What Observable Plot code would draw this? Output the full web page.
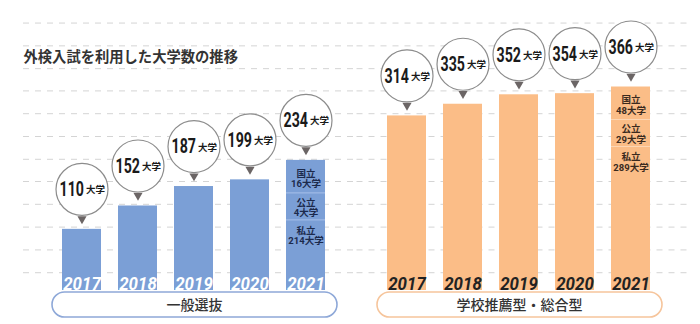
<!DOCTYPE html>
<html>
<head>
<meta charset="utf-8">
<script src="https://cdn.jsdelivr.net/npm/d3@7"></script>
<script src="https://cdn.jsdelivr.net/npm/@observablehq/plot@0.6"></script>
<style>
  body { margin: 0; background: #fff; }
  #chart svg { display: block; }
</style>
</head>
<body>
<div id="chart"></div>
<script>
// ---- data ----
const title = "外検入試を利用した大学数の推移";
const panels = ["一般選抜", "学校推薦型・総合型"];
const years = ["2017", "2018", "2019", "2020", "2021"];
const generalCounts = [110, 152, 187, 199, 234];
const recommendCounts = [314, 335, 352, 354, 366];
const breakdownTypes = ["国立", "公立", "私立"];
const general2021 = [16, 4, 214];
const recommend2021 = [48, 29, 289];
const unit = "大学";
const guideLines = [32, 73, 114, 155, 196, 236, 277, 318, 359, 399, 440, 481];

// ---- tables ----
const rows = [];
years.forEach((yr, i) => {
  rows.push({panel: panels[0], year: yr, value: generalCounts[i]});
  rows.push({panel: panels[1], year: yr, value: recommendCounts[i]});
});
const last = [
  {panel: panels[0], year: years[4], value: generalCounts[4], parts: general2021},
  {panel: panels[1], year: years[4], value: recommendCounts[4], parts: recommend2021}
];

const barColor = {[panels[0]]: "#7b9fd6", [panels[1]]: "#fbbd87"};
const sepColor = {[panels[0]]: "#a9c1ea", [panels[1]]: "#fdd6b3"};
const pillColor = {[panels[0]]: "#8ea8d8", [panels[1]]: "#f6c59c"};
const yearColor = {[panels[0]]: "#ffffff", [panels[1]]: "#222222"};
const stackText = {[panels[0]]: "#1c2a4c", [panels[1]]: "#3a2a1e"};

const numFont = `Roboto,"Noto Sans CJK JP",sans-serif`;
const jpFont = `"Noto Sans CJK JP",sans-serif`;

const stackDy = [18, 47, 75];
const sepDy = [32.5, 59.5];

const marks = [
  // decorative dashed ruled lines
  Plot.ruleY(guideLines, {y: d => d, fx: () => panels[0], insetLeft: -20, insetRight: -11.5,
    stroke: "#d4d4d4", strokeDasharray: "6,6"}),
  Plot.ruleY(guideLines, {y: d => d, fx: () => panels[1], insetLeft: -11.5, insetRight: -20,
    stroke: "#d4d4d4", strokeDasharray: "6,6"}),
  // bars
  Plot.barY(rows, {x: "year", y: "value", fx: "panel", fill: d => barColor[d.panel]}),
  // 2021 breakdown separators and labels
  ...sepDy.map(dy => Plot.tickY(last, {x: "year", y: "value", fx: "panel", dy,
    stroke: d => sepColor[d.panel], strokeWidth: 1})),
  ...breakdownTypes.map((t, k) => Plot.text(last, {x: "year", y: "value", fx: "panel",
    text: d => t + "\n" + d.parts[k] + unit, dy: stackDy[k], lineAnchor: "middle",
    fontSize: 9.5, lineHeight: 1.1, fontWeight: "bold", fontFamily: numFont,
    fill: d => stackText[d.panel]})),
  // category pills
  Plot.rect(panels, {fx: d => d, y1: 0, y2: 0, insetTop: 2, insetBottom: -27,
    insetLeft: 9, insetRight: 8, rx: 12.5, fill: "white",
    stroke: d => pillColor[d], strokeWidth: 1.6}),
  Plot.text(panels, {fx: d => d, text: d => d, frameAnchor: "bottom", dy: 15.5,
    lineAnchor: "middle", fontSize: 14, fontFamily: jpFont, fontWeight: 500, fill: "#333"}),
  // year labels
  Plot.text(rows, {x: "year", y: 0, fx: "panel", text: "year", lineAnchor: "middle", dy: -6.5,
    fontSize: 16.9, fontStyle: "italic", fontWeight: "bold", fontFamily: numFont,
    fill: d => yearColor[d.panel]}),
  // bubbles
  Plot.dot(rows, {x: "year", y: "value", fx: "panel", r: 26, dy: -40,
    fill: "white", stroke: "#8c8c8c", strokeWidth: 1.2}),
  Plot.dot(rows, {x: "year", y: "value", fx: "panel", symbol: "triangle", r: 3.4, rotate: 180,
    dy: -10.5, fill: "#6b6565", stroke: "none"}),
  Plot.text(rows, {x: "year", y: "value", fx: "panel", text: d => String(d.value), dy: -39.5, dx: 2,
    textAnchor: "end", lineAnchor: "middle", fontSize: 14.2, fontWeight: "bold",
    fontFamily: numFont, fill: "#1a1a1a"}),
  Plot.text(rows, {x: "year", y: "value", fx: "panel", text: () => unit, dy: -39, dx: 4,
    textAnchor: "start", lineAnchor: "middle", fontSize: 9.5, fontWeight: "bold",
    fontFamily: jpFont, fill: "#1a1a1a"}),
  // title
  Plot.text([title], {fx: () => panels[0], text: d => d, frameAnchor: "top-left", dx: -20, dy: 44.5,
    textAnchor: "start", lineAnchor: "middle", fontSize: 14.3, fontWeight: "bold",
    fontFamily: jpFont, fill: "#333"})
];

const chart = Plot.plot({
  width: 700,
  height: 324,
  marginTop: 12,
  marginBottom: 34,
  marginLeft: 43,
  marginRight: 30,
  fx: {domain: panels, paddingInner: 0.0708, paddingOuter: 0, axis: null, label: null},
  x: {domain: years, padding: 0.3, axis: null},
  y: {domain: [0, 500], axis: null},
  color: {type: "identity"},
  style: {background: "white", overflow: "visible"},
  marks
});
document.getElementById("chart").append(chart);

// tall condensed numerals: stretch glyphs vertically about their anchor point
function stretch(selector, k) {
  d3.select(chart).selectAll(selector).each(function() {
    const t = this.getAttribute("transform");
    if (t) {
      this.setAttribute("transform", t + ` scale(1,${k})`);
    } else {
      const x = +this.getAttribute("x") || 0, y = +this.getAttribute("y") || 0;
      this.setAttribute("x", 0); this.setAttribute("y", 0);
      this.setAttribute("transform", `translate(${x},${y}) scale(1,${k})`);
    }
  });
}
stretch('g[font-size="14.2"] text', 1.39);
stretch('g[font-size="16.9"] text', 1.12);
</script>
</body>
</html>
